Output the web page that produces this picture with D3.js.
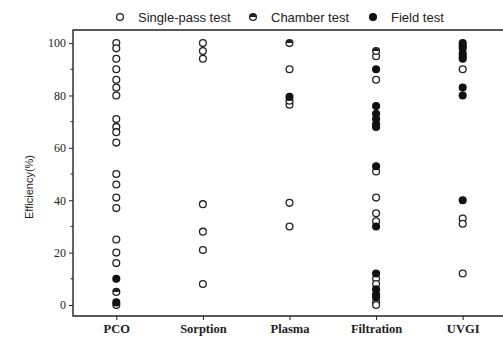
<!DOCTYPE html>
<html>
<head>
<meta charset="utf-8">
<script src="https://cdn.jsdelivr.net/npm/d3@7/dist/d3.min.js"></script>
<style>
  body { margin: 0; background: #fff; }
  svg { display: block; }
</style>
</head>
<body>
<svg id="chart"></svg>
<script>
const categories = ['PCO', 'Sorption', 'Plasma', 'Filtration', 'UVGI'];
const seriesNames = ['Single-pass test', 'Chamber test', 'Field test'];
const yTicks = [0, 20, 40, 60, 80, 100];

// efficiency (%) by category, one array per test type
const singlePass = {
  PCO: [100, 98, 94, 90, 86, 83, 80, 71, 68, 66, 62, 50, 46, 41, 37, 25, 20, 16, 0],
  Sorption: [100, 97, 94, 38.5, 28, 21, 8],
  Plasma: [90, 76.5, 39, 30],
  Filtration: [95, 86, 51, 41, 35, 32, 10, 8, 1, 0],
  UVGI: [90, 33, 31, 12]
};
const chamber = {
  PCO: [5],
  Sorption: [],
  Plasma: [100, 78],
  Filtration: [97],
  UVGI: []
};
const field = {
  PCO: [10, 1],
  Sorption: [],
  Plasma: [79.5],
  Filtration: [90, 76, 73, 71, 69, 68, 53, 30, 12, 6, 4, 3],
  UVGI: [100, 99, 98, 96, 95, 94, 83, 80, 40]
};

const width = 503, height = 338;
const margin = { top: 30, right: -3, bottom: 22, left: 73 };

const svg = d3.select('#chart')
  .attr('width', width)
  .attr('height', height);

const x = d3.scalePoint()
  .domain(categories)
  .range([margin.left, width - margin.right])
  .padding(0.5);

const y = d3.scaleLinear()
  .domain([-4.2, 105])
  .range([height - margin.bottom, margin.top]);

const serif = '"Liberation Serif", "Times New Roman", serif';
const sans = '"Liberation Sans", Arial, sans-serif';

// frame: left, bottom, top
const x0 = margin.left, x1 = width - margin.right;
const yTop = margin.top, yBot = height - margin.bottom;
svg.append('path')
  .attr('d', `M${x1},${yTop}H${x0}V${yBot}H${x1}`)
  .attr('fill', 'none')
  .attr('stroke', '#222')
  .attr('stroke-width', 1.4);

// y axis
const yAxis = svg.append('g')
  .attr('transform', `translate(${x0},0)`)
  .call(d3.axisLeft(y).tickValues(yTicks).tickSize(4).tickPadding(3));
yAxis.select('.domain').remove();
yAxis.selectAll('text')
  .style('font-family', serif)
  .style('font-size', '12px')
  .attr('fill', '#222');
yAxis.selectAll('line').attr('stroke', '#222');

// minor ticks
svg.append('g')
  .selectAll('line')
  .data([10, 30, 50, 70, 90])
  .join('line')
  .attr('x1', x0 - 2.5).attr('x2', x0)
  .attr('y1', d => y(d)).attr('y2', d => y(d))
  .attr('stroke', '#222');

// x axis
const xAxis = svg.append('g')
  .attr('transform', `translate(0,${yBot})`)
  .call(d3.axisBottom(x).tickSize(4).tickPadding(4));
xAxis.select('.domain').remove();
xAxis.selectAll('text')
  .style('font-family', serif)
  .style('font-size', '12.5px')
  .style('font-weight', 'bold')
  .attr('fill', '#222');
xAxis.selectAll('line').attr('stroke', '#222');

svg.append('text')
  .attr('transform', `translate(33,${(yTop + yBot) / 2 + 14}) rotate(-90)`)
  .attr('text-anchor', 'middle')
  .style('font-family', sans)
  .style('font-size', '11px')
  .attr('fill', '#222')
  .text('Efficiency(%)');

const r = 3.4;

// half-filled marker for chamber tests
function drawMarker(g, type, cx, cy) {
  if (type === 0) {
    g.append('circle').attr('cx', cx).attr('cy', cy).attr('r', r)
      .attr('fill', '#fff').attr('stroke', '#222').attr('stroke-width', 1.3);
  } else if (type === 1) {
    g.append('circle').attr('cx', cx).attr('cy', cy).attr('r', r)
      .attr('fill', '#fff').attr('stroke', '#222').attr('stroke-width', 1.3);
    g.append('path')
      .attr('d', `M${cx - r},${cy} A${r},${r} 0 0 1 ${cx + r},${cy} Z`)
      .attr('fill', '#222');
  } else {
    g.append('circle').attr('cx', cx).attr('cy', cy).attr('r', r)
      .attr('fill', '#111').attr('stroke', '#111').attr('stroke-width', 1.3);
  }
}

const points = svg.append('g');
[singlePass, chamber, field].forEach((series, type) => {
  categories.forEach(cat => {
    series[cat].forEach(v => drawMarker(points, type, x(cat), y(v)));
  });
});

// legend
const legendX = [120, 253, 373];
const legend = svg.append('g');
seriesNames.forEach((name, i) => {
  drawMarker(legend, i, legendX[i], 17);
  legend.append('text')
    .attr('x', legendX[i] + 18)
    .attr('y', 21.5)
    .style('font-family', sans)
    .style('font-size', '13px')
    .attr('fill', '#222')
    .text(name);
});
</script>
</body>
</html>
